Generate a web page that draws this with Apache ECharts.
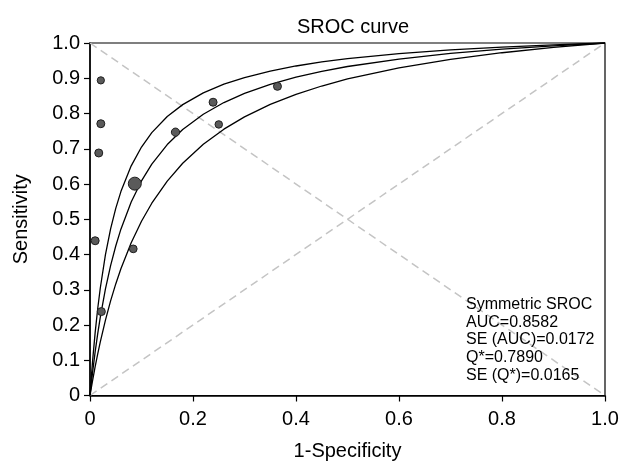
<!DOCTYPE html>
<html>
<head>
<meta charset="utf-8">
<script src="https://cdn.jsdelivr.net/npm/echarts@6/dist/echarts.min.js"></script>
<style>html,body{margin:0;padding:0;background:#fff;}#c{width:621px;height:461px;}</style>
</head>
<body>
<div id="c"></div>
<script>
// Study points (1-Specificity, Sensitivity, relative weight)
const studyFPR  = [0.021, 0.021, 0.017, 0.087, 0.010, 0.084, 0.022, 0.166, 0.239, 0.250, 0.364];
const studySens = [0.894, 0.771, 0.688, 0.601, 0.439, 0.416, 0.238, 0.747, 0.832, 0.769, 0.877];
const studyWeight = [0.45, 0.6, 0.6, 1.6, 0.6, 0.55, 0.6, 0.65, 0.6, 0.5, 0.6];

// SROC curves (x = 1-Specificity)
const curveX = [0, 0.002, 0.005, 0.01, 0.015, 0.02, 0.03, 0.04, 0.05, 0.06, 0.08, 0.10, 0.12, 0.15, 0.18, 0.22, 0.26, 0.30, 0.35, 0.40, 0.45, 0.50, 0.60, 0.70, 0.80, 0.90, 1.0];
const upperY  = [0, 0.0413, 0.0975, 0.1784, 0.2467, 0.3050, 0.3994, 0.4725, 0.5309, 0.5785, 0.6515, 0.7049, 0.7457, 0.7914, 0.8252, 0.8584, 0.8831, 0.9021, 0.9205, 0.9348, 0.9462, 0.9556, 0.9699, 0.9805, 0.9885, 0.9949, 1];
const middleY = [0, 0.0273, 0.0657, 0.1239, 0.1757, 0.2222, 0.3022, 0.3684, 0.4242, 0.4719, 0.5490, 0.6087, 0.6563, 0.7119, 0.7545, 0.7979, 0.8311, 0.8571, 0.8829, 0.9032, 0.9197, 0.9333, 0.9545, 0.9703, 0.9825, 0.9921, 1];
const lowerY  = [0, 0.0173, 0.0423, 0.0816, 0.1182, 0.1522, 0.2139, 0.2683, 0.3165, 0.3597, 0.4335, 0.4944, 0.5455, 0.6083, 0.6589, 0.7128, 0.7556, 0.7904, 0.8257, 0.8544, 0.8780, 0.8980, 0.9296, 0.9536, 0.9724, 0.9875, 1];

// Reference diagonals
const diagUp = [[0, 0], [1, 1]];
const diagDown = [[0, 1], [1, 0]];

const statsLines = ['Symmetric SROC', 'AUC=0.8582', 'SE (AUC)=0.0172', 'Q*=0.7890', 'SE (Q*)=0.0165'];

const FONT = 'Liberation Sans, Arial, Helvetica, sans-serif';
const pair = (xs, ys) => xs.map((x, i) => [x, ys[i]]);
const curveStyle = { color: '#000', width: 1.3 };
const dashStyle = { color: '#c4c4c4', width: 1.5, type: [8, 5] };

const chart = echarts.init(document.getElementById('c'), null, { renderer: 'canvas' });
chart.setOption({
  animation: false,
  backgroundColor: '#fff',
  title: {
    text: 'SROC curve', left: 348, top: 12, textAlign: 'center',
    textStyle: { fontFamily: FONT, fontSize: 20, fontWeight: 'normal', color: '#000' }
  },
  grid: { left: 90, right: 16, top: 43, bottom: 65.5, show: true, borderColor: '#000', borderWidth: 1.2,
    containLabel: false, outerBoundsMode: 'none' },
  xAxis: {
    type: 'value', min: 0, max: 1, interval: 0.2,
    name: '1-Specificity', nameLocation: 'middle', nameGap: 46,
    nameTextStyle: { fontFamily: FONT, fontSize: 20, color: '#000' },
    axisLine: { show: true, onZero: false, lineStyle: { color: '#000', width: 1.5 } },
    axisTick: { show: true, length: 6, lineStyle: { color: '#000', width: 1.2 } },
    axisLabel: { fontFamily: FONT, fontSize: 20, color: '#000', margin: 14,
      formatter: v => v === 0 ? '0' : v.toFixed(1) },
    splitLine: { show: false }
  },
  yAxis: {
    type: 'value', min: 0, max: 1, interval: 0.1,
    name: 'Sensitivity', nameLocation: 'middle', nameGap: 59,
    nameTextStyle: { fontFamily: FONT, fontSize: 20, color: '#000' },
    axisLine: { show: true, onZero: false, lineStyle: { color: '#000', width: 1.5 } },
    axisTick: { show: true, length: 6, lineStyle: { color: '#000', width: 1.2 } },
    axisLabel: { fontFamily: FONT, fontSize: 20, color: '#000', margin: 10,
      formatter: v => v === 0 ? '0' : v.toFixed(1) },
    splitLine: { show: false }
  },
  graphic: [{
    type: 'text', left: 466, top: 296, z: 100,
    style: { text: statsLines.join('\n'), font: '16px ' + FONT, fill: '#000', lineHeight: 17.6 }
  }],
  series: [
    { type: 'line', data: diagUp, symbol: 'none', lineStyle: dashStyle, z: 1 },
    { type: 'line', data: diagDown, symbol: 'none', lineStyle: dashStyle, z: 1 },
    { type: 'line', data: pair(curveX, upperY), symbol: 'none', lineStyle: curveStyle, z: 2 },
    { type: 'line', data: pair(curveX, middleY), symbol: 'none', lineStyle: curveStyle, z: 2 },
    { type: 'line', data: pair(curveX, lowerY), symbol: 'none', lineStyle: curveStyle, z: 2 },
    {
      type: 'scatter', z: 3,
      data: studyFPR.map((x, i) => [x, studySens[i], studyWeight[i]]),
      symbolSize: d => 5 + d[2] * 5,
      itemStyle: { color: '#5a5a5a', borderColor: '#1e1e1e', borderWidth: 1, opacity: 1 }
    }
  ]
});
</script>
</body>
</html>
